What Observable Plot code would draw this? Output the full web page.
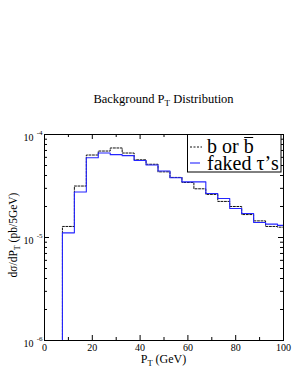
<!DOCTYPE html>
<html>
<head>
<meta charset="utf-8">
<script src="https://cdn.jsdelivr.net/npm/d3@7"></script>
<script src="https://cdn.jsdelivr.net/npm/@observablehq/plot@0.6"></script>
<style>
  html, body { margin: 0; padding: 0; background: white; }
  #wrap { position: relative; width: 298px; height: 385px; font-family: "Liberation Serif", serif; }
  #wrap svg { position: absolute; left: 0; top: 0; }
</style>
</head>
<body>
<div id="wrap"></div>
<script>
// ---- data ----
const binCenters = [10, 15, 20, 25, 30, 35, 40, 45, 50, 55, 60, 65, 70, 75, 80, 85, 90, 95, 100];
const binWidth = 5;
const bOrBbar = [1.28e-5, 3.16e-5, 6.32e-5, 6.91e-5, 7.40e-5, 6.61e-5, 5.68e-5, 5.14e-5, 4.34e-5, 3.83e-5,
                 3.42e-5, 2.97e-5, 2.62e-5, 2.24e-5, 2.00e-5, 1.67e-5, 1.45e-5, 1.28e-5, 1.26e-5];
const fakedTaus = [1.11e-5, 2.77e-5, 5.95e-5, 6.61e-5, 6.37e-5, 6.23e-5, 5.59e-5, 5.06e-5, 4.42e-5, 3.80e-5,
                   3.47e-5, 3.47e-5, 2.67e-5, 2.39e-5, 1.91e-5, 1.71e-5, 1.40e-5, 1.35e-5, 1.31e-5];
const xTickLabels = [0, 20, 40, 60, 80, 100];
const xMinorTicks = [10, 30, 50, 70, 90];
const yMajorTicks = [1e-6, 1e-5, 1e-4];
const yExponents = ["-6", "-5", "-4"];
const yMinorTicks = [2e-6, 3e-6, 4e-6, 5e-6, 6e-6, 7e-6, 8e-6, 9e-6,
                     2e-5, 3e-5, 4e-5, 5e-5, 6e-5, 7e-5, 8e-5, 9e-5];
const floorValue = 1e-7; // histogram drops below the axis before the first bin

// ---- layout ----
const W = 298, H = 385;
const mL = 44, mR = 15, mT = 134, mB = 45;
const innerW = W - mL - mR, innerH = H - mT - mB;

function histSteps(values) {
  const pts = [{x: binCenters[0] - binWidth / 2, y: floorValue}];
  values.forEach((v, i) => pts.push({x: binCenters[i] - binWidth / 2, y: v}));
  pts.push({x: binCenters[binCenters.length - 1] + binWidth / 2, y: values[values.length - 1]});
  return pts;
}

const chart = Plot.plot({
  width: W, height: H,
  marginLeft: mL, marginRight: mR, marginTop: mT, marginBottom: mB,
  style: {fontFamily: "Liberation Serif", fontSize: "10px", color: "black", background: "white"},
  x: {domain: [0, 100], axis: null},
  y: {type: "log", domain: [1e-6, 1e-4], axis: null},
  marks: [
    Plot.line(histSteps(bOrBbar), {x: "x", y: "y", curve: "step-after", stroke: "#111", strokeWidth: 1, strokeDasharray: "2,1.5", clip: true}),
    Plot.line(histSteps(fakedTaus), {x: "x", y: "y", curve: "step-after", stroke: "#2525ff", strokeWidth: 1.1, clip: true}),
    // ticks (inward)
    Plot.ruleX(xTickLabels, {x: d => d, insetTop: innerH - 5, stroke: "black"}),
    Plot.ruleX(xTickLabels, {x: d => d, insetBottom: innerH - 5, stroke: "black"}),
    Plot.ruleX(xMinorTicks, {x: d => d, insetTop: innerH - 3, stroke: "black"}),
    Plot.ruleX(xMinorTicks, {x: d => d, insetBottom: innerH - 3, stroke: "black"}),
    Plot.ruleY(yMajorTicks, {y: d => d, insetRight: innerW - 5, stroke: "black"}),
    Plot.ruleY(yMajorTicks, {y: d => d, insetLeft: innerW - 5, stroke: "black"}),
    Plot.ruleY(yMinorTicks, {y: d => d, insetRight: innerW - 3, stroke: "black"}),
    Plot.ruleY(yMinorTicks, {y: d => d, insetLeft: innerW - 3, stroke: "black"}),
    Plot.frame({stroke: "black", strokeWidth: 1}),
    // tick labels
    Plot.text(xTickLabels, {x: d => d, frameAnchor: "bottom", dy: 7, text: d => String(d), fontSize: 10, lineAnchor: "middle", fill: "black"}),
    Plot.text(yMajorTicks, {y: d => d, frameAnchor: "left", dx: -11, dy: 3, textAnchor: "end", lineAnchor: "middle", text: () => "10", fontSize: 10, fill: "black"}),
    Plot.text(yMajorTicks, {y: d => d, frameAnchor: "left", dx: -2, dy: -1.5, textAnchor: "end", lineAnchor: "middle", text: (d, i) => yExponents[i], fontSize: 7, fill: "black"})
  ]
});

const wrap = document.getElementById("wrap");
wrap.appendChild(chart);

// overlay: title, axis labels with subscripts, legend
const ns = "http://www.w3.org/2000/svg";
const ov = document.createElementNS(ns, "svg");
ov.setAttribute("width", W);
ov.setAttribute("height", H);
ov.setAttribute("font-family", "Liberation Serif");
const cx = mL + innerW / 2;
ov.innerHTML = `
  <text x="${cx}" y="103" text-anchor="middle" font-size="12.5" fill="black">Background P<tspan dy="3" font-size="9">T</tspan><tspan dy="-3"> Distribution</tspan></text>
  <text x="${cx}" y="363" text-anchor="middle" font-size="12" fill="black">P<tspan dy="3" font-size="8.5">T</tspan><tspan dy="-3"> (GeV)</tspan></text>
  <text transform="translate(16.5,235) rotate(-90)" text-anchor="middle" font-size="11.5" fill="black">dσ/dP<tspan dy="3" font-size="8">T</tspan><tspan dy="-3"> (pb/5GeV)</tspan></text>
  <rect x="187.5" y="134.5" width="93.5" height="37.5" fill="white" stroke="black" stroke-width="1"/>
  <line x1="190" x2="202" y1="147" y2="147" stroke="#111" stroke-width="1" stroke-dasharray="2,1.5"/>
  <line x1="190" x2="200" y1="163" y2="163" stroke="#2525ff" stroke-width="1.1"/>
  <text id="leg1" x="207" y="153" font-size="20" fill="black">b or b</text>
  <text x="207" y="169.5" font-size="20" fill="black">faked τ’s</text>
`;
wrap.appendChild(ov);
// overline above the second "b"
const leg1 = ov.querySelector("#leg1");
const n = leg1.getNumberOfChars();
const s = leg1.getStartPositionOfChar(n - 1).x;
const e = leg1.getEndPositionOfChar(n - 1).x;
const bar = document.createElementNS(ns, "line");
bar.setAttribute("x1", s + 0.5); bar.setAttribute("x2", e - 0.5);
bar.setAttribute("y1", 137.5); bar.setAttribute("y2", 137.5);
bar.setAttribute("stroke", "black"); bar.setAttribute("stroke-width", "1");
ov.appendChild(bar);
</script>
</body>
</html>
